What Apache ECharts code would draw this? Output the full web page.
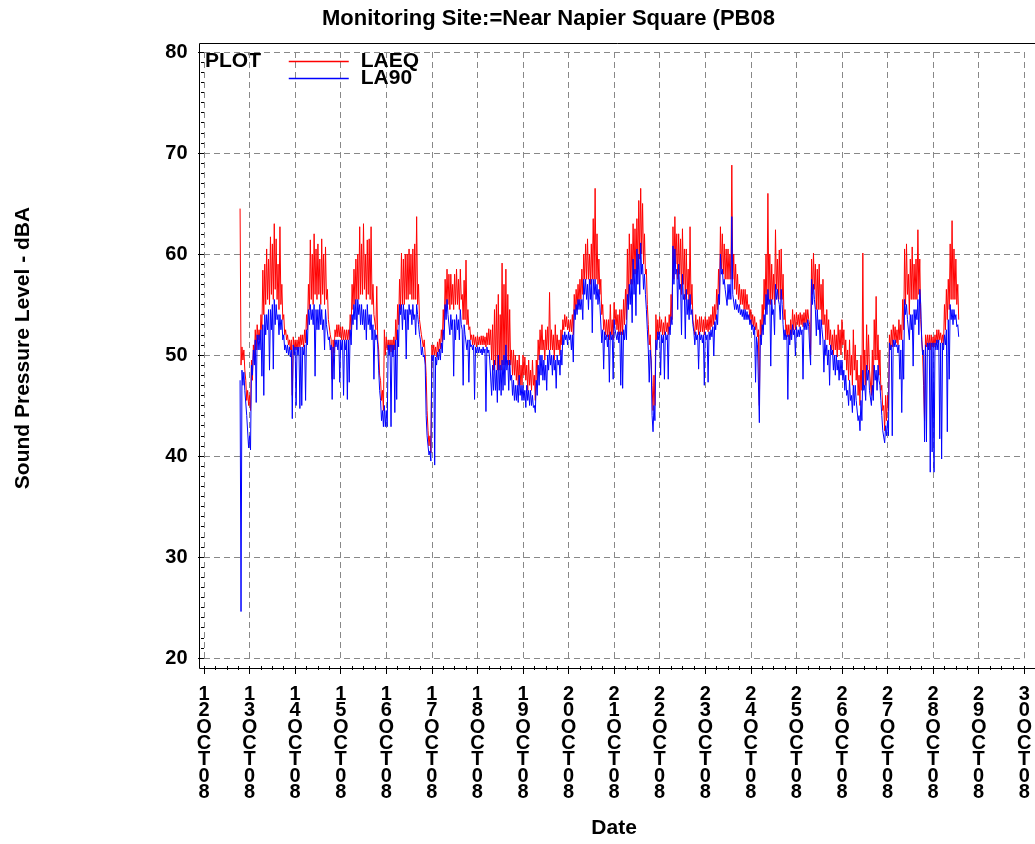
<!DOCTYPE html>
<html>
<head>
<meta charset="utf-8">
<script src="https://cdn.jsdelivr.net/npm/echarts@6/dist/echarts.min.js"></script>
<style>
html, body { margin: 0; padding: 0; background: #fff; }
#chart { width: 1035px; height: 844px; }
</style>
</head>
<body>
<div id="chart"></div>
<script>
// x values are hours counted from 12 OCT08 00:00
// each hour has a high reading (on the hour) and a low reading (half past)
var startHour = 19;

var dayLabels = ['12OCT08', '13OCT08', '14OCT08', '15OCT08', '16OCT08', '17OCT08', '18OCT08',
    '19OCT08', '20OCT08', '21OCT08', '22OCT08', '23OCT08', '24OCT08', '25OCT08', '26OCT08',
    '27OCT08', '28OCT08', '29OCT08', '30OCT08'];

var laeqHigh = [
    64.5, 50.8, 50.5, 47.5, 46.5,
    46.0, 49.5, 51.0, 52.5, 53.0, 52.5, 54.0, 58.4, 59.0, 60.5, 59.5, 61.7, 61.0, 63.0, 61.5, 59.0, 62.7, 57.0, 54.0, 52.5, 52.0, 51.5, 51.5, 51.8,
    51.5, 51.5, 51.8, 52.0, 52.0, 52.5, 54.0, 57.0, 61.4, 60.0, 62.0, 60.5, 61.0, 59.5, 61.5, 60.0, 60.7, 56.5, 53.5, 51.5, 51.5, 52.5, 53.0, 53.0,
    52.8, 52.8, 52.5, 52.5, 52.5, 54.0, 57.0, 58.5, 59.5, 60.0, 62.7, 61.0, 63.0, 60.0, 61.4, 61.5, 62.7, 57.0, 54.0, 56.8, 50.5, 47.5, 46.5, 52.5,
    51.8, 51.5, 51.5, 51.5, 51.8, 53.5, 55.0, 57.5, 60.1, 59.5, 60.0, 60.0, 60.5, 60.0, 60.5, 61.0, 63.7, 57.0, 53.5, 52.0, 51.5, 48.0, 42.5, 42.0,
    51.0, 51.0, 50.8, 51.3, 51.6, 52.5, 54.5, 57.5, 58.5, 58.0, 58.0, 57.0, 58.0, 58.5, 57.5, 58.5, 56.0, 57.4, 59.4, 54.5, 52.8, 52.0, 52.0, 51.8,
    51.9, 51.8, 51.9, 51.9, 51.8, 52.2, 52.6, 52.5, 53.0, 54.5, 55.0, 56.0, 54.0, 59.1, 57.0, 58.5, 56.0, 54.5, 50.5, 50.5, 50.0, 49.5, 50.0, 49.0,
    50.0, 49.8, 49.0, 49.5, 48.5, 49.5, 48.0, 49.5, 51.5, 52.5, 53.0, 51.5, 52.5, 52.8, 56.2, 52.5, 52.0, 53.0, 52.0, 51.5, 52.5, 53.5, 54.0, 53.8,
    53.5, 53.5, 54.0, 56.0, 56.5, 57.0, 57.5, 58.5, 60.0, 61.0, 61.5, 60.0, 61.0, 63.5, 66.5, 62.0, 59.5, 57.5, 55.0, 53.5, 53.5, 53.5, 55.0, 53.5,
    55.2, 54.5, 54.0, 54.5, 54.5, 55.5, 56.5, 60.5, 62.0, 61.0, 63.0, 62.5, 63.5, 65.3, 66.5, 65.0, 62.0, 58.5, 53.0, 52.0, 47.0, 48.0, 54.0, 53.5,
    53.8, 53.5, 53.2, 53.8, 53.2, 54.0, 56.0, 62.7, 63.7, 62.0, 62.0, 61.5, 62.5, 60.5, 60.5, 58.5, 62.7, 57.0, 53.5, 54.0, 53.5, 53.8, 53.8, 53.5,
    53.8, 53.5, 53.8, 54.0, 54.8, 55.0, 56.5, 58.5, 62.7, 62.0, 61.0, 60.5, 60.5, 60.0, 68.8, 60.0, 59.0, 58.0, 57.0, 56.5, 56.5, 56.5, 56.0, 55.0,
    54.5, 54.0, 53.8, 53.2, 52.5, 53.5, 55.0, 57.5, 60.0, 66.0, 60.0, 59.0, 58.0, 62.4, 59.5, 60.4, 60.5, 58.0, 54.5, 53.0, 53.0, 53.5, 54.5, 54.0,
    54.2, 54.0, 54.2, 54.0, 54.2, 54.5, 54.5, 53.0, 59.5, 60.1, 59.0, 58.5, 59.0, 57.0, 57.5, 54.0, 54.5, 53.5, 52.5, 52.0, 52.5, 52.0, 53.0, 52.5,
    53.5, 52.5, 51.5, 50.5, 51.5, 50.0, 52.5, 51.0, 49.5, 48.0, 50.0, 60.1, 50.5, 53.0, 52.0, 48.5, 50.5, 53.5, 55.8, 52.0, 50.5, 47.0, 45.0, 46.0,
    46.0, 52.0, 52.5, 53.0, 52.8, 52.5, 53.5, 53.0, 55.5, 60.5, 61.0, 58.0, 59.5, 60.7, 59.0, 59.5, 62.4, 59.5, 53.5, 47.0, 52.0, 52.0, 52.0, 52.0,
    51.8, 52.0, 52.5, 52.5, 52.2, 52.0, 55.0, 56.5, 57.5, 61.0, 63.3, 60.5, 59.5, 57.0
];

var laeqLow = [
    49.0, 49.5, 48.5, 45.5, 45.0,
    44.5, 47.5, 49.5, 50.5, 51.5, 51.5, 52.5, 54.0, 55.0, 55.5, 55.0, 56.0, 55.5, 56.5, 55.5, 54.5, 55.0, 53.5, 52.0, 51.5, 51.0, 50.5, 46.0, 50.5,
    50.5, 50.5, 50.8, 51.0, 50.8, 51.2, 52.5, 54.5, 55.5, 55.0, 56.0, 55.5, 56.0, 55.0, 56.0, 55.0, 55.5, 53.5, 52.0, 47.6, 50.2, 51.8, 51.8, 51.8,
    51.5, 51.5, 51.5, 51.5, 51.5, 52.5, 54.5, 55.0, 55.5, 55.5, 56.0, 56.0, 56.5, 55.5, 56.0, 55.5, 55.0, 54.0, 52.5, 51.5, 48.0, 45.5, 44.5, 50.0,
    50.5, 50.5, 50.3, 50.5, 50.5, 51.5, 53.0, 54.5, 55.0, 55.0, 55.5, 55.5, 56.0, 55.5, 55.5, 55.5, 55.0, 53.5, 52.0, 50.8, 50.0, 44.5, 41.0, 40.3,
    50.0, 50.0, 49.8, 50.3, 50.6, 51.3, 52.5, 54.5, 55.0, 54.5, 55.0, 54.5, 55.0, 55.0, 54.5, 55.5, 53.5, 53.5, 53.0, 52.5, 51.5, 51.0, 51.0, 50.8,
    51.0, 51.0, 51.0, 51.0, 50.8, 51.0, 51.0, 49.5, 48.5, 49.0, 48.5, 48.5, 48.5, 49.0, 49.0, 49.5, 49.0, 49.0, 48.0, 48.0, 47.5, 47.0, 47.0, 47.0,
    48.0, 47.5, 46.5, 47.0, 46.5, 47.0, 45.5, 47.5, 49.5, 50.5, 50.5, 49.5, 50.5, 50.5, 50.5, 50.5, 49.5, 50.5, 50.5, 50.0, 51.0, 52.5, 52.8, 52.5,
    52.3, 52.3, 52.0, 54.0, 54.5, 55.0, 55.5, 56.0, 57.5, 57.5, 57.5, 57.0, 57.5, 57.5, 57.5, 57.0, 56.0, 54.0, 52.5, 52.0, 51.8, 51.5, 52.0, 51.5,
    53.0, 52.5, 52.0, 52.0, 52.0, 53.0, 53.5, 55.0, 57.0, 57.0, 58.0, 58.0, 58.5, 59.5, 60.0, 59.0, 58.0, 55.0, 51.0, 49.5, 44.5, 45.0, 51.5, 52.0,
    52.3, 52.0, 52.0, 52.3, 52.0, 52.5, 53.5, 57.5, 59.0, 57.5, 58.0, 56.0, 57.0, 55.5, 56.0, 54.5, 55.0, 53.5, 52.0, 52.5, 52.0, 52.3, 52.3, 52.0,
    52.5, 52.3, 52.5, 52.8, 53.0, 53.5, 54.5, 55.5, 58.5, 58.0, 57.5, 57.5, 57.5, 57.5, 57.5, 56.5, 56.0, 55.5, 55.0, 55.0, 54.5, 54.5, 54.5, 53.5,
    53.0, 52.8, 52.5, 51.8, 45.0, 51.8, 52.5, 54.5, 55.0, 55.5, 55.0, 55.5, 55.0, 56.5, 55.5, 55.5, 55.5, 53.5, 52.0, 51.8, 51.5, 52.0, 52.5, 52.5,
    53.0, 52.8, 53.0, 52.8, 53.0, 53.2, 53.5, 50.0, 56.0, 56.5, 54.5, 54.5, 54.5, 53.0, 53.0, 51.5, 51.5, 51.0, 50.5, 50.0, 50.5, 49.8, 50.5, 50.0,
    51.0, 49.5, 48.5, 47.5, 48.0, 47.0, 48.5, 47.5, 46.0, 45.0, 46.5, 47.0, 47.0, 48.5, 48.5, 46.0, 46.5, 49.5, 49.5, 48.0, 46.5, 44.5, 42.5, 43.5,
    44.5, 50.5, 50.8, 51.5, 51.2, 51.0, 51.5, 51.5, 52.5, 55.0, 56.0, 54.0, 55.5, 55.5, 55.5, 55.5, 56.0, 53.5, 50.0, 43.5, 50.8, 50.8, 50.5, 50.8,
    50.8, 51.0, 51.2, 51.5, 51.2, 51.0, 52.5, 53.5, 54.5, 55.5, 55.5, 55.5, 55.0, 53.5
];

var la90High = [
    47.5, 48.5, 48.3, 46.5, 44.0,
    42.0, 49.0, 50.5, 51.5, 52.0, 52.0, 52.5, 53.0, 54.0, 54.0, 54.5, 54.5, 55.0, 55.5, 55.0, 54.0, 54.0, 53.5, 52.0, 51.0, 51.0, 50.8, 50.5, 51.0,
    50.8, 50.8, 50.8, 50.8, 50.8, 51.0, 52.5, 54.5, 55.0, 54.5, 55.0, 54.5, 54.5, 55.0, 54.5, 53.5, 54.5, 53.0, 51.8, 51.0, 50.8, 51.5, 51.5, 51.5,
    51.5, 51.5, 51.5, 51.5, 51.5, 52.5, 54.0, 55.0, 55.5, 55.5, 55.0, 55.0, 54.5, 54.5, 55.0, 54.0, 54.0, 53.0, 52.5, 52.0, 48.5, 45.5, 44.5, 45.0,
    44.5, 51.0, 51.0, 51.0, 51.0, 51.5, 52.5, 55.0, 55.0, 55.0, 54.5, 54.5, 55.0, 54.5, 55.0, 54.0, 55.0, 53.0, 51.5, 50.8, 50.0, 44.0, 41.0, 40.5,
    50.0, 50.0, 49.8, 50.3, 50.6, 51.2, 52.5, 55.0, 55.5, 54.0, 54.0, 53.5, 53.5, 54.0, 53.5, 54.5, 52.5, 53.0, 52.0, 51.5, 51.5, 51.0, 51.0, 50.8,
    50.8, 50.8, 50.6, 50.8, 50.6, 50.8, 50.5, 49.5, 49.0, 49.5, 48.5, 50.0, 49.0, 49.5, 50.0, 51.0, 49.5, 49.5, 48.0, 47.5, 47.0, 47.0, 48.0, 47.0,
    47.0, 46.5, 47.0, 46.5, 46.5, 46.0, 45.0, 47.5, 49.0, 50.0, 50.0, 49.5, 49.0, 50.0, 50.5, 50.0, 50.0, 49.5, 50.0, 49.5, 50.5, 52.0, 52.3, 52.0,
    52.3, 52.0, 52.0, 54.5, 55.0, 55.5, 55.5, 55.5, 57.5, 57.5, 57.0, 57.5, 57.5, 57.5, 57.5, 57.0, 56.5, 55.0, 52.5, 52.3, 52.0, 52.0, 52.3, 52.0,
    53.5, 52.5, 52.3, 52.3, 52.3, 52.5, 53.0, 56.0, 57.0, 57.5, 59.5, 58.5, 60.5, 60.0, 61.1, 59.0, 58.0, 54.5, 50.5, 50.5, 44.0, 45.0, 51.5, 52.3,
    52.3, 52.0, 52.0, 52.3, 52.0, 52.8, 53.8, 60.8, 60.5, 58.5, 59.0, 57.0, 58.0, 56.0, 56.5, 55.5, 56.0, 54.5, 52.3, 52.3, 52.0, 52.3, 52.0, 52.0,
    52.3, 52.0, 52.3, 52.5, 52.8, 53.3, 54.0, 56.0, 60.0, 58.5, 57.5, 56.5, 57.0, 57.0, 63.7, 56.0, 55.5, 55.0, 55.0, 54.5, 54.5, 54.5, 54.3, 54.0,
    53.5, 53.0, 52.8, 51.8, 51.0, 52.0, 53.0, 54.0, 56.0, 56.5, 55.5, 55.5, 54.5, 57.0, 56.5, 55.0, 56.5, 53.0, 52.5, 52.0, 52.0, 52.5, 53.0, 52.5,
    52.8, 52.5, 52.8, 52.5, 53.2, 53.2, 53.5, 50.5, 57.5, 57.0, 54.5, 54.5, 53.5, 53.5, 51.5, 51.5, 51.0, 50.5, 51.0, 50.5, 50.0, 50.0, 49.5, 49.5,
    49.5, 48.5, 48.0, 46.5, 47.5, 46.0, 47.0, 47.0, 45.5, 44.0, 45.5, 48.5, 47.0, 49.0, 48.5, 46.5, 47.0, 49.0, 48.5, 49.0, 47.0, 44.0, 42.5, 43.0,
    43.5, 51.2, 51.0, 51.5, 51.5, 51.0, 51.0, 50.5, 51.5, 55.5, 55.0, 53.5, 54.0, 54.0, 54.5, 54.5, 55.5, 56.5, 51.5, 50.5, 51.0, 51.2, 51.2, 51.2,
    51.2, 51.2, 51.5, 51.5, 51.2, 51.2, 52.0, 52.5, 53.5, 55.0, 54.5, 54.5, 54.0, 53.0
];

var la90Low = [
    24.6, 47.0, 46.5, 44.0, 40.8,
    40.6, 48.0, 49.0, 45.3, 50.5, 50.5, 47.9, 46.0, 52.0, 52.5, 48.5, 52.5, 48.6, 53.0, 53.5, 52.0, 52.5, 51.5, 50.5, 50.2, 50.0, 49.8, 43.7, 50.0,
    45.0, 50.0, 44.7, 45.0, 50.0, 45.5, 51.0, 53.0, 53.5, 53.0, 47.9, 52.5, 52.5, 53.0, 52.5, 50.5, 53.0, 51.5, 50.5, 45.6, 47.6, 50.8, 50.5, 47.3,
    50.5, 46.0, 50.5, 45.6, 47.3, 51.0, 53.0, 53.5, 52.5, 54.0, 53.0, 53.0, 52.5, 51.5, 53.0, 52.5, 51.5, 47.6, 51.5, 51.0, 46.5, 43.5, 42.9, 42.9,
    42.9, 50.0, 42.9, 49.8, 44.3, 45.6, 50.8, 54.0, 52.5, 53.5, 49.6, 52.5, 54.0, 53.0, 53.5, 52.0, 54.0, 52.0, 50.0, 49.8, 49.0, 42.0, 40.1, 39.5,
    49.4, 39.1, 49.0, 49.5, 49.5, 50.2, 51.5, 53.5, 54.0, 52.0, 52.5, 47.9, 51.5, 52.5, 51.5, 53.0, 47.0, 52.0, 50.5, 47.3, 50.8, 50.5, 45.6, 50.2,
    50.2, 50.2, 50.0, 50.2, 44.4, 50.2, 49.5, 46.0, 46.5, 46.5, 45.3, 46.5, 46.0, 46.5, 47.0, 48.5, 46.5, 47.5, 46.0, 45.5, 45.5, 45.3, 46.0, 45.5,
    45.5, 44.8, 45.5, 45.0, 45.0, 44.8, 44.3, 46.0, 47.0, 48.0, 47.5, 47.5, 46.5, 48.5, 49.0, 48.0, 48.5, 46.7, 49.0, 48.0, 49.0, 51.0, 51.5, 51.0,
    51.5, 50.5, 49.3, 53.5, 54.0, 54.5, 54.5, 53.5, 56.0, 55.5, 54.5, 55.5, 52.2, 56.0, 55.5, 55.0, 55.0, 51.2, 48.6, 51.5, 50.8, 47.3, 51.5, 47.6,
    52.5, 51.5, 51.2, 47.0, 46.7, 51.5, 51.5, 54.5, 55.0, 53.2, 56.0, 53.9, 57.0, 56.0, 58.0, 56.5, 56.0, 52.5, 47.3, 49.5, 42.4, 43.5, 50.5, 51.5,
    48.0, 51.2, 47.6, 51.5, 47.6, 52.0, 53.0, 57.0, 58.0, 54.5, 56.5, 52.0, 55.5, 51.6, 54.0, 53.5, 54.0, 53.0, 51.0, 51.5, 48.6, 51.5, 51.2, 47.0,
    51.5, 47.3, 51.5, 51.8, 49.9, 52.5, 53.0, 55.0, 58.0, 57.0, 56.5, 54.9, 55.5, 55.5, 56.0, 54.5, 54.5, 54.2, 54.0, 53.8, 53.5, 53.5, 53.5, 53.0,
    52.5, 52.0, 47.3, 51.0, 43.3, 51.0, 52.0, 53.0, 54.0, 55.0, 48.9, 54.0, 52.0, 55.5, 55.5, 53.5, 55.0, 51.5, 51.5, 45.6, 51.0, 51.5, 52.0, 49.9,
    51.8, 51.8, 52.0, 47.6, 52.5, 52.5, 52.8, 49.0, 55.0, 55.5, 51.9, 52.5, 51.0, 52.5, 48.3, 50.0, 49.0, 47.0, 50.0, 48.5, 48.0, 48.5, 47.5, 48.0,
    47.5, 46.5, 46.0, 45.0, 45.5, 44.3, 45.0, 45.5, 43.5, 42.5, 43.5, 46.5, 45.5, 47.5, 46.5, 45.0, 45.5, 47.5, 46.5, 47.5, 45.5, 42.5, 41.3, 42.0,
    42.0, 50.5, 42.0, 50.8, 50.8, 50.2, 47.6, 44.3, 47.6, 54.0, 53.5, 51.5, 52.5, 48.9, 53.0, 53.5, 52.0, 55.0, 50.0, 41.4, 41.4, 50.5, 38.4, 40.4,
    38.4, 50.5, 50.5, 41.7, 39.7, 50.5, 51.0, 42.4, 47.6, 53.5, 53.0, 53.5, 52.8, 51.8
];

function toPoints(high, low) {
    var pts = [];
    for (var i = 0; i < high.length; i++) {
        pts.push([startHour + i, high[i]]);
        pts.push([startHour + i + 0.5, low[i]]);
    }
    return pts;
}

var font = '"Liberation Sans", Arial, sans-serif';
var myChart = echarts.init(document.getElementById('chart'));

myChart.setOption({
    animation: false,
    title: {
        text: 'Monitoring Site:=Near Napier Square (PB08',
        left: 322,
        top: 8,
        padding: 0,
        textStyle: { fontFamily: font, fontWeight: 'bold', fontSize: 22, color: '#000' }
    },
    legend: {
        orient: 'vertical',
        left: 288,
        top: 51,
        padding: 0,
        itemWidth: 60,
        itemHeight: 14,
        itemGap: -4,
        itemStyle: { opacity: 0 },
        lineStyle: { width: 1.5 },
        data: ['LAEQ', 'LA90'],
        textStyle: { fontFamily: font, fontWeight: 'bold', fontSize: 21, color: '#000', padding: [0, 0, 0, 7] }
    },
    graphic: [
        {
            type: 'rect',
            silent: true,
            z: 10,
            shape: { x: 199.5, y: 43.5, width: 850, height: 625 },
            style: { fill: null, stroke: '#000', lineWidth: 1 }
        },
        {
            type: 'text',
            left: 205,
            top: 51,
            style: { text: 'PLOT', font: 'bold 21px "Liberation Sans", Arial, sans-serif', fill: '#000' }
        }
    ],
    grid: { left: 204, right: -1, top: 52, bottom: 183 },
    xAxis: {
        type: 'value',
        min: 0,
        max: 432,
        interval: 24,
        offset: 8,
        name: 'Date',
        nameLocation: 'middle',
        nameGap: 152,
        nameTextStyle: { fontFamily: font, fontWeight: 'bold', fontSize: 21, color: '#000' },
        axisLine: { show: false },
        axisTick: { show: true, length: 8, lineStyle: { color: '#000' } },
        minorTick: { show: true, splitNumber: 4, length: 4, lineStyle: { color: '#000' } },
        axisLabel: {
            fontFamily: font, fontWeight: 'bold', fontSize: 20, color: '#000',
            lineHeight: 16.4, margin: 20, hideOverlap: false,
            formatter: function (v) {
                var s = dayLabels[Math.round(v / 24)] || '';
                return s.split('').join('\n');
            }
        },
        splitLine: { show: true, lineStyle: { color: '#888', width: 1, type: [6, 4] } }
    },
    yAxis: {
        type: 'value',
        min: 20,
        max: 80,
        interval: 10,
        offset: 4.5,
        name: 'Sound Pressure Level - dBA',
        nameLocation: 'middle',
        nameGap: 166,
        nameTextStyle: { fontFamily: font, fontWeight: 'bold', fontSize: 21, color: '#000', padding: [0, 0, 0, 14] },
        axisLine: { show: false },
        axisTick: { show: true, length: 6, lineStyle: { color: '#000' } },
        minorTick: { show: true, splitNumber: 10, length: 3, lineStyle: { color: '#000' } },
        axisLabel: { fontFamily: font, fontWeight: 'bold', fontSize: 20, color: '#000', margin: 12 },
        splitLine: { show: true, lineStyle: { color: '#888', width: 1, type: [6, 4] } }
    },
    series: [
        {
            name: 'LAEQ',
            type: 'line',
            data: toPoints(laeqHigh, laeqLow),
            symbol: 'none',
            lineStyle: { color: '#ff0000', width: 1 },
            itemStyle: { color: '#ff0000' }
        },
        {
            name: 'LA90',
            type: 'line',
            data: toPoints(la90High, la90Low),
            symbol: 'none',
            lineStyle: { color: '#0000ff', width: 1 },
            itemStyle: { color: '#0000ff' }
        }
    ]
});
</script>
</body>
</html>
